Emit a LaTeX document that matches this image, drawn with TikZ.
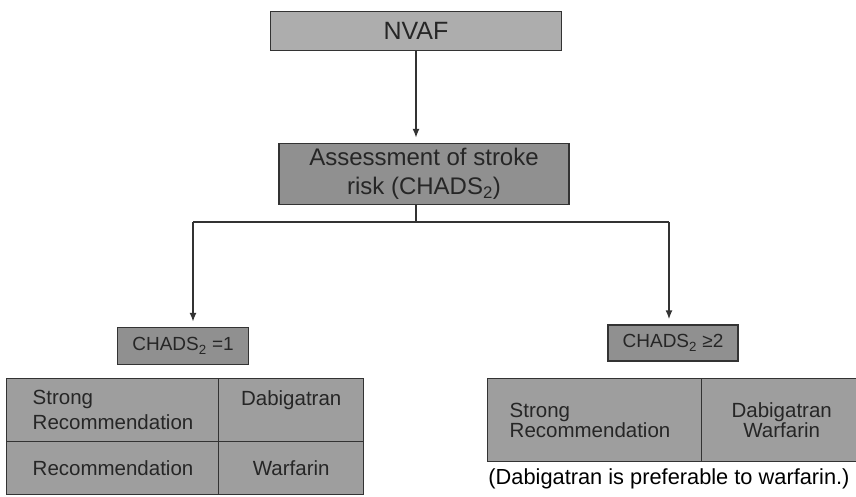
\documentclass[tikz,border=0pt]{standalone}
\usepackage{fontspec}
\setmainfont{Liberation Sans}
\usetikzlibrary{arrows.meta}
\definecolor{nvafgray}{HTML}{ADADAD}
\definecolor{boxgray}{HTML}{909090}
\definecolor{cellgray}{HTML}{9E9E9E}
\definecolor{edgegray}{HTML}{333333}
\definecolor{textgray}{HTML}{262626}

\begin{document}
\begin{tikzpicture}[x=1pt, y=-1pt,
    box/.style={rectangle, draw=edgegray, line width=1.4pt, fill=boxgray, text=textgray, align=center, inner sep=0pt},
    cell/.style={box, anchor=north west, fill=cellgray, font=\fontsize{20.5}{25}\selectfont},
    tightcell/.style={cell, font=\fontsize{20.5}{19}\selectfont},
    link/.style={draw=edgegray, line width=1.5pt},
    line/.style={link, -{Latex[length=9pt,width=7pt]}, shorten >=5pt}]
    \useasboundingbox (0,0) rectangle (856,496);

    % top of the chart
    \node [box, fill=nvafgray, minimum width=291pt, minimum height=39pt, font=\fontsize{25}{28}\selectfont] (nvaf) at (416,31) {NVAF};
    \node [box, minimum width=290pt, minimum height=61pt, font=\fontsize{24}{29}\selectfont] (assess) at (424,174) {Assessment of stroke\\risk (CHADS\textsubscript{2})};

    % the two risk groups
    \node [box, minimum width=131pt, minimum height=37pt, font=\fontsize{19}{22}\selectfont] (chadsl) at (183,346) {CHADS\textsubscript{2} =1};
    \node [box, minimum width=130pt, minimum height=36pt, font=\fontsize{19}{22}\selectfont] (chadsr) at (673,343) {CHADS\textsubscript{2} ≥2};

    % left table
    \node [cell, minimum width=212pt, minimum height=63pt, text width=160pt, align=left] (lstrong) at (6,378) {Strong\\Recommendation};
    \node [cell, minimum width=145pt, minimum height=63pt] (ldabi) at (218,378) {Dabigatran\\\mbox{}};
    \node [cell, minimum width=212pt, minimum height=53pt, text width=160pt, align=left] (lrec) at (6,441) {Recommendation};
    \node [cell, minimum width=145pt, minimum height=53pt] (lwarf) at (218,441) {Warfarin};

    % right table
    \node [tightcell, minimum width=214pt, minimum height=83pt, text width=170pt, align=left] (rstrong) at (487,378) {Strong\\Recommendation};
    \node [tightcell, minimum width=160pt, minimum height=83pt] (rdrugs) at (701,378) {Dabigatran\\Warfarin};
    \node [font=\fontsize{21.8}{25}\selectfont, inner sep=0pt] (note) at (669,479) {(Dabigatran is preferable to warfarin.)};

    % connectors
    \coordinate (fork) at (416,222);
    \coordinate (lfork) at (193,222);
    \coordinate (rfork) at (669,222);
    \path [line] (nvaf.south) -- (nvaf.south |- assess.north);
    \path [link] (fork |- assess.south) -- (fork);
    \path [link] (lfork) -- (rfork);
    \path [line] (lfork) -- (lfork |- chadsl.north);
    \path [line] (rfork) -- (rfork |- chadsr.north);
\end{tikzpicture}
\end{document}
